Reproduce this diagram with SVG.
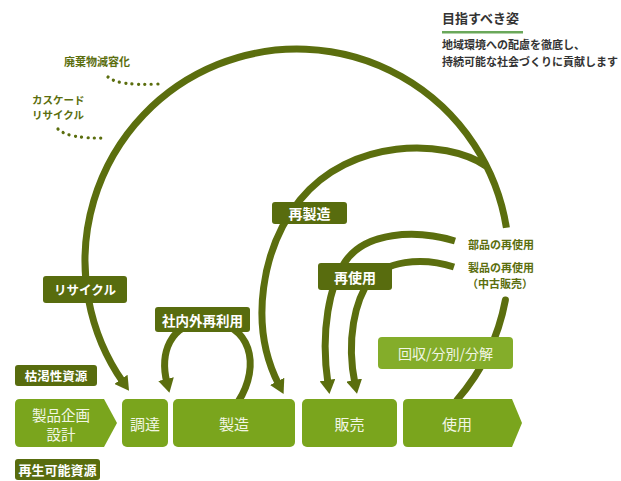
<svg xmlns="http://www.w3.org/2000/svg" width="621" height="481" viewBox="0 0 621 481">
<style>
text{font-family:"Noto Sans CJK JP","Noto Sans",sans-serif;}
.arc{fill:none;stroke:#5b6e0e;stroke-width:7;stroke-linecap:round;}
.arr{marker-end:url(#ah);stroke-linecap:butt;}
.dot{fill:none;stroke:#5b6e0e;stroke-width:3.2;stroke-linecap:round;stroke-dasharray:0.1 6.3;}
.lbl{fill:#586c0e;}
.lt{fill:#fff;font-weight:bold;text-anchor:middle;dominant-baseline:central;}
.box{fill:#7aa51d;}
.bt{fill:#f2f6e4;font-size:15px;text-anchor:middle;dominant-baseline:central;}
.side{fill:#5b6e0e;font-weight:bold;font-size:11px;}
.note{fill:#333;font-weight:bold;font-size:11px;}
</style>
<defs>
<marker id="ah" markerUnits="userSpaceOnUse" markerWidth="14" markerHeight="16" viewBox="0 0 14 16" refX="4" refY="8" orient="auto">
<path d="M0,0 L14,8 L0,16 Z" fill="#5b6e0e"/>
</marker>
</defs>

<g id="connectors">
<path class="arc arr" d="M506.4,227.8 A212,212 0 1 0 123.3,382.6"/>
<path class="arc" d="M505.4,300 A212,212 0 0 1 457,400"/>
<path class="arc arr" d="M486,166 C445,138 350,138 300,200 C262,247 248,325 279,385"/>
<path class="arc arr" d="M455,241 C415,229 365,232 345,262 C330,285 320,330 328,384"/>
<path class="arc arr" d="M454,267 C420,256 385,262 370,280 C355,300 346,340 355,384"/>
<path class="arc arr" d="M238,402 C262,365 250,322 208,322 C168,322 160,355 167,383"/>
<path class="dot" d="M108,77 Q118,86 158,84"/>
<path class="dot" d="M58,129 Q68,139 107,138"/>
</g>

<g id="goal">
<text x="442" y="23" style="fill:#333;font-weight:bold;font-size:13px">目指すべき姿</text>
<rect x="442" y="31" width="81" height="2.5" fill="#6aa85a"/>
<text class="note" x="442" y="49">地域環境への配慮を徹底し、</text>
<text class="note" x="442" y="66">持続可能な社会づくりに貢献します</text>
</g>

<g id="reduce">
<text class="side" x="97" y="66" text-anchor="middle">廃棄物減容化</text>
</g>
<g id="cascade">
<text class="side" x="32" y="104" style="font-size:10.5px">カスケード</text>
<text class="side" x="32" y="119" style="font-size:10.5px">リサイクル</text>
</g>

<g id="recycle">
<rect class="lbl" x="43" y="276" width="84" height="27" rx="3"/>
<text class="lt" x="85" y="289.5" style="font-size:12.5px">リサイクル</text>
</g>
<g id="remanufacture">
<rect class="lbl" x="272" y="202" width="75" height="22" rx="3"/>
<text class="lt" x="309.5" y="213" style="font-size:14px">再製造</text>
</g>
<g id="reuse">
<rect class="lbl" x="318" y="263" width="74" height="27" rx="3"/>
<text class="lt" x="355" y="276.5" style="font-size:14px">再使用</text>
</g>
<g id="internal-reuse">
<rect class="lbl" x="155" y="307" width="95" height="25" rx="3"/>
<text class="lt" x="202.5" y="319.5" style="font-size:13.5px">社内外再利用</text>
</g>

<g id="parts-reuse">
<text class="side" x="501" y="249" text-anchor="middle">部品の再使用</text>
</g>
<g id="product-reuse">
<text class="side" x="501" y="272" text-anchor="middle">製品の再使用</text>
<text class="side" x="500" y="288" text-anchor="middle">（中古販売）</text>
</g>

<g id="collect">
<rect x="378" y="337" width="135" height="32" rx="4" fill="#84ad2a"/>
<text class="bt" x="445.5" y="353" style="font-size:14px">回収/分別/分解</text>
</g>

<g id="depletable">
<rect class="lbl" x="15" y="365" width="82" height="21" rx="3"/>
<text class="lt" x="56" y="375.5" style="font-size:12.5px">枯渇性資源</text>
</g>
<g id="renewable">
<rect class="lbl" x="15" y="459" width="85" height="21" rx="3"/>
<text class="lt" x="57.5" y="469.5" style="font-size:13px">再生可能資源</text>
</g>

<g id="design">
<path class="box" d="M20,399 H104 L117,423 L104,447 H20 Q15,447 15,442 V404 Q15,399 20,399 Z"/>
<text class="bt" x="61" y="414" style="font-size:14.5px">製品企画</text>
<text class="bt" x="61" y="433" style="font-size:14.5px">設計</text>
</g>
<g id="procure">
<rect class="box" x="122" y="399" width="46" height="48" rx="5"/>
<text class="bt" x="145" y="423">調達</text>
</g>
<g id="manufacture">
<rect class="box" x="173" y="399" width="122" height="48" rx="5"/>
<text class="bt" x="234" y="423">製造</text>
</g>
<g id="sales">
<rect class="box" x="302" y="399" width="95" height="48" rx="5"/>
<text class="bt" x="349.5" y="423">販売</text>
</g>
<g id="use">
<path class="box" d="M408,399 H512 L522,423 L512,447 H408 Q403,447 403,442 V404 Q403,399 408,399 Z"/>
<text class="bt" x="457" y="423">使用</text>
</g>
</svg>
